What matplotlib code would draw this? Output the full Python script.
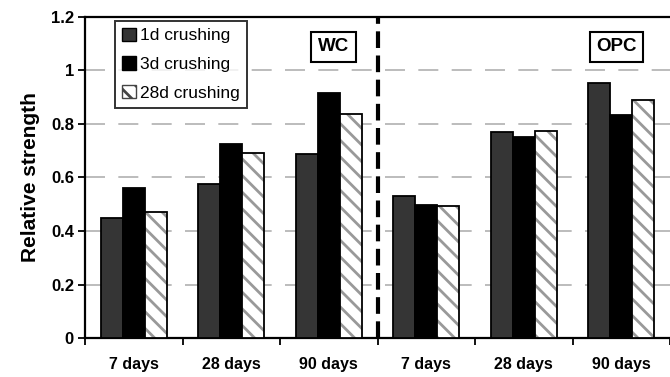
import matplotlib
matplotlib.use("Agg")
import matplotlib.pyplot as plt
from matplotlib.patches import Patch
import numpy as np

plt.rcParams['font.family'] = ['Liberation Sans', 'DejaVu Sans']
plt.rcParams['hatch.linewidth'] = 2.0

groups = ["7 days", "28 days", "90 days", "7 days", "28 days", "90 days"]
series_names = ["1d crushing", "3d crushing", "28d crushing"]
d1 = [0.45, 0.576, 0.687, 0.53, 0.77, 0.955]
d3 = [0.56, 0.725, 0.917, 0.497, 0.75, 0.835]
d28 = [0.472, 0.69, 0.837, 0.495, 0.775, 0.89]
panel_labels = ["WC", "OPC"]
yticks = [0, 0.2, 0.4, 0.6, 0.8, 1.0, 1.2]
ytick_labels = ["0", "0.2", "0.4", "0.6", "0.8", "1", "1.2"]

fig = plt.figure(figsize=(6.7, 3.77), dpi=100)
ax = fig.add_axes([0.127, 0.1034, 0.873, 0.8516])

x = np.arange(len(groups))
w = 0.225

ax.bar(x - w, d1, w, color="#353535", edgecolor="black", linewidth=1.3, zorder=3)
ax.bar(x, d3, w, color="black", edgecolor="black", linewidth=1.3, zorder=3)
ax.bar(x + w, d28, w, color="white", edgecolor="#999999", hatch="\\\\", linewidth=0, zorder=3)
ax.bar(x + w, d28, w, fill=False, edgecolor="black", linewidth=1.3, zorder=4)

ax.set_xlim(-0.5, 5.41)
ax.set_ylim(0, 1.2)
ax.set_yticks(yticks)
ax.set_yticklabels(ytick_labels, fontsize=12, fontweight="bold")
ax.set_xticks(x)
ax.set_xticklabels(groups, fontsize=11.5, fontweight="bold")
ax.tick_params(axis="x", length=0, pad=14)
ax.set_xticks(np.arange(-0.5, 6, 1), minor=True)
ax.tick_params(axis="x", which="minor", length=5, width=1.3, direction="out")
ax.tick_params(axis="y", length=5, width=1.3, direction="out", pad=3)

for v in yticks[1:-1]:
    ax.axhline(v, color="#b0b0b0", lw=1.2, dashes=(12, 8), zorder=1)

ax.axvline(2.5, color="black", lw=3, dashes=(4, 1.8), zorder=5)

for s in ["left", "bottom", "top"]:
    ax.spines[s].set_linewidth(1.6)
ax.spines["right"].set_visible(False)

ax.set_ylabel("Relative strength", fontsize=15, fontweight="bold", labelpad=8)

box = dict(boxstyle="square,pad=0.35", fc="white", ec="black", lw=1.5)
ax.text(2.05, 1.088, panel_labels[0], fontsize=13.5, fontweight="bold", ha="center", va="center",
        bbox=box, zorder=6)
ax.text(4.95, 1.088, panel_labels[1], fontsize=13.5, fontweight="bold", ha="center", va="center",
        bbox=box, zorder=6)

handles = [Patch(facecolor="#353535", edgecolor="black"),
           Patch(facecolor="black", edgecolor="black"),
           Patch(facecolor="white", edgecolor="#444444", hatch="\\\\")]
leg = ax.legend(handles, series_names, loc="upper left", bbox_to_anchor=(0.051, 0.988),
                borderaxespad=0, fontsize=12.5, frameon=True, fancybox=False,
                handlelength=0.8, handleheight=0.8, handletextpad=0.25, labelspacing=0.75,
                borderpad=0.4)
leg.get_frame().set_edgecolor("black")
leg.get_frame().set_linewidth(1.4)
leg.set_zorder(7)

fig.savefig("out.png", dpi=100)
